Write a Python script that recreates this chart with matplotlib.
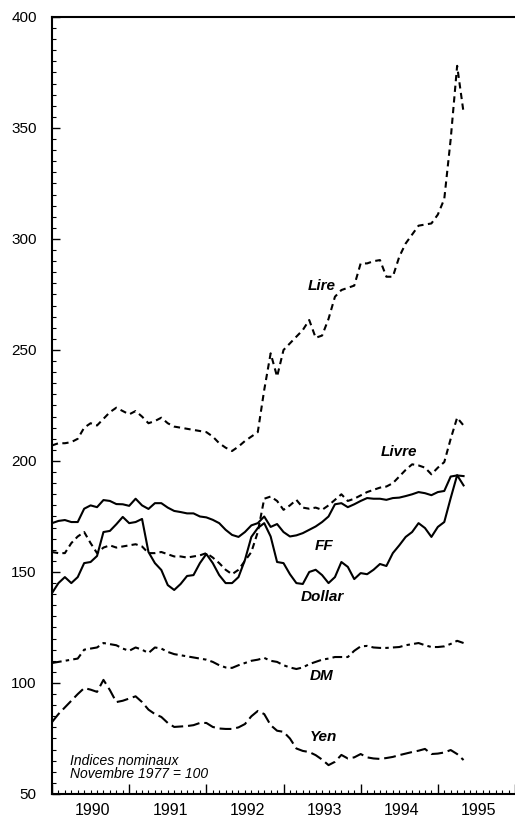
import numpy as np
import matplotlib
matplotlib.use("Agg")
import matplotlib.pyplot as plt
import matplotlib.transforms as mtransforms
from matplotlib.ticker import FixedLocator

plt.rcParams['font.family'] = ['Liberation Sans', 'DejaVu Sans']
plt.rcParams['lines.scale_dashes'] = False

# ---- data (monthly, from January 1990) ----
start_year = 1990
lire = [207, 208, 208, 208.5, 210, 215, 217, 216, 219, 222, 224, 222.5,
        221, 222.5, 220, 217, 218, 219.5, 217, 215.5, 215, 214.5, 214, 213.5,
        213, 211, 208, 206, 204.5, 206.5, 209, 211, 213, 232, 248.5, 238,
        250, 253, 256, 259, 263.5, 255.5, 256.5, 264, 274, 277, 278, 279,
        289, 289, 290, 290.5, 283, 283, 292, 298, 302, 306, 306.5, 307,
        311, 318, 345, 378, 357]
livre = [159, 158.5, 158.5, 163, 166, 168, 163, 158.5, 161, 162, 161, 161.5,
         162, 162.5, 161.5, 158.5, 158.5, 159, 158, 157, 157, 156.5, 157, 157.5,
         158.5, 156.5, 154, 151, 149, 151, 155, 159, 168, 183, 184, 182,
         178, 180, 182.5, 179, 178.5, 179, 178, 180, 182.5, 185, 182, 183,
         184.5, 186, 187, 188, 188.5, 190, 193, 196, 198.5, 198, 197, 194,
         197, 199.5, 210, 219.5, 216]
ff = [172, 173, 173.4, 172.5, 172.5, 178.5, 180, 179.2, 182.4, 182, 180.6, 180.5,
      179.8, 183, 180, 178.4, 181, 181, 179, 177.5, 177, 176.4, 176.4, 175,
      174.6, 173.5, 172, 169, 166.7, 165.8, 168, 171, 172, 175, 170.3, 171.6,
      168, 166, 166.5, 167.5, 169, 170.5, 172.5, 175, 180.5, 181, 179.2, 180.5,
      182, 183.3, 183, 183, 182.5, 183.3, 183.5, 184.2, 185, 186, 185.5, 184.6,
      186, 186.5, 193, 193.5, 193.2]
dollar = [140.5, 145, 147.7, 145, 147.7, 154, 154.5, 157.2, 168, 168.5, 171.5, 174.8,
          172, 172.5, 173.9, 159, 154, 150.9, 144.1, 141.9, 144.6, 148.2, 148.6, 154,
          158.1, 154, 148.6, 145, 145, 147.7, 155.4, 165.8, 169.8, 172, 166, 154.5,
          154, 149, 145, 144.6, 150, 151, 148.6, 145, 147.7, 154.5, 152.3, 146.8,
          149.5, 149, 151, 153.6, 152.7, 158.5, 162, 165.8, 168, 172, 169.8, 165.8,
          170.3, 172.5, 183.3, 193.6, 189]
dm = [109, 109.5, 110, 110.5, 111, 115, 115.5, 116, 118, 117.5, 117, 115.5,
      114.5, 116, 115, 113.5, 116, 115.5, 114, 113, 112.5, 112, 111.5, 111,
      110.5, 109.5, 108, 107, 106.8, 108, 109, 110, 110.5, 111.3, 110, 109.5,
      108, 107, 106.3, 107, 108.5, 109.5, 110.5, 111, 111.7, 111.7, 111.7, 114.5,
      116.5, 116.7, 116, 115.8, 115.8, 116, 116.2, 117, 117.5, 118, 117, 116.2,
      116.2, 116.5, 117.6, 119, 118]
yen = [82.4, 86, 89, 92, 95, 97.7, 97, 96, 101.4, 96.8, 91.4, 92,
       93, 94, 91.4, 88, 86, 84.7, 82, 80.2, 80.4, 80.6, 81, 82,
       82, 80.2, 79.5, 79.3, 79.3, 80, 81.5, 85, 87.4, 86, 81, 78.5,
       78, 75, 70.5, 69.4, 68.9, 67.5, 65.5, 63, 64.5, 67.6, 66, 66.5,
       68, 66.5, 66, 65.8, 66.2, 66.7, 67.5, 68.2, 68.9, 69.5, 70.3, 68,
       68.2, 68.7, 69.8, 68, 65.3]

years = [1990, 1991, 1992, 1993, 1994, 1995]
yticks = [50, 100, 150, 200, 250, 300, 350, 400]

series_labels = ["Lire", "Livre", "FF", "Dollar", "DM", "Yen"]
label_pos = [(1993.5, 279), (1994.5, 204), (1993.52, 161.5),
             (1993.5, 138.7), (1993.5, 103.2), (1993.52, 75.7)]
note_lines = ["Indices nominaux", "Novembre 1977 = 100"]

x = start_year + np.arange(len(lire)) / 12.0

fig = plt.figure(figsize=(5.15, 8.21), dpi=100)
ax = fig.add_axes([0.101, 0.0329, 0.899, 0.9464])

lw = 1.5
ax.plot(x, lire, color='black', lw=lw, dashes=(4.5, 3.2))
ax.plot(x, livre, color='black', lw=lw, dashes=(4.5, 3.0))
ax.plot(x, ff, color='black', lw=lw)
ax.plot(x, dollar, color='black', lw=lw)
ax.plot(x, dm, color='black', lw=lw, dashes=(7, 3, 2.5, 3))
ax.plot(x, yen, color='black', lw=lw, dashes=(8.5, 3.5))

ax.set_xlim(1990, 1995.9)
ax.set_ylim(50, 400)

ax.spines['right'].set_visible(False)
for s in ['left', 'top', 'bottom']:
    ax.spines[s].set_linewidth(1.5)

ax.set_yticks(yticks)
ax.set_yticklabels([str(v) for v in yticks])
ax.yaxis.set_minor_locator(FixedLocator(np.arange(50, 401, 5)))
ax.tick_params(axis='y', which='major', direction='in', length=6, width=1,
               labelsize=11, pad=11)
ax.tick_params(axis='y', which='minor', direction='in', length=3, width=0.8)

ax.set_xticks(years + [1996])
ax.tick_params(axis='x', which='major', direction='in', length=7, width=1,
               labelbottom=False)
months = [start_year + m / 12.0 for m in range(0, 72) if m % 12 != 0]
ax.xaxis.set_minor_locator(FixedLocator(months))
ax.tick_params(axis='x', which='minor', direction='in', length=3, width=0.8)

trans = mtransforms.blended_transform_factory(ax.transData, ax.transAxes)
for yr in years:
    ax.text(yr + 0.53, -0.0275, str(yr), transform=trans, ha='center',
            va='baseline', fontsize=11.5)

for lab, (lx, ly) in zip(series_labels, label_pos):
    ax.text(lx, ly, lab, ha='center', va='center', fontsize=11,
            fontstyle='italic', fontweight='bold')

ax.text(1990.23, 64.8, note_lines[0], ha='left', va='center', fontsize=10,
        fontstyle='italic')
ax.text(1990.23, 58.9, note_lines[1], ha='left', va='center', fontsize=10,
        fontstyle='italic')

fig.savefig("out.png", dpi=100)
